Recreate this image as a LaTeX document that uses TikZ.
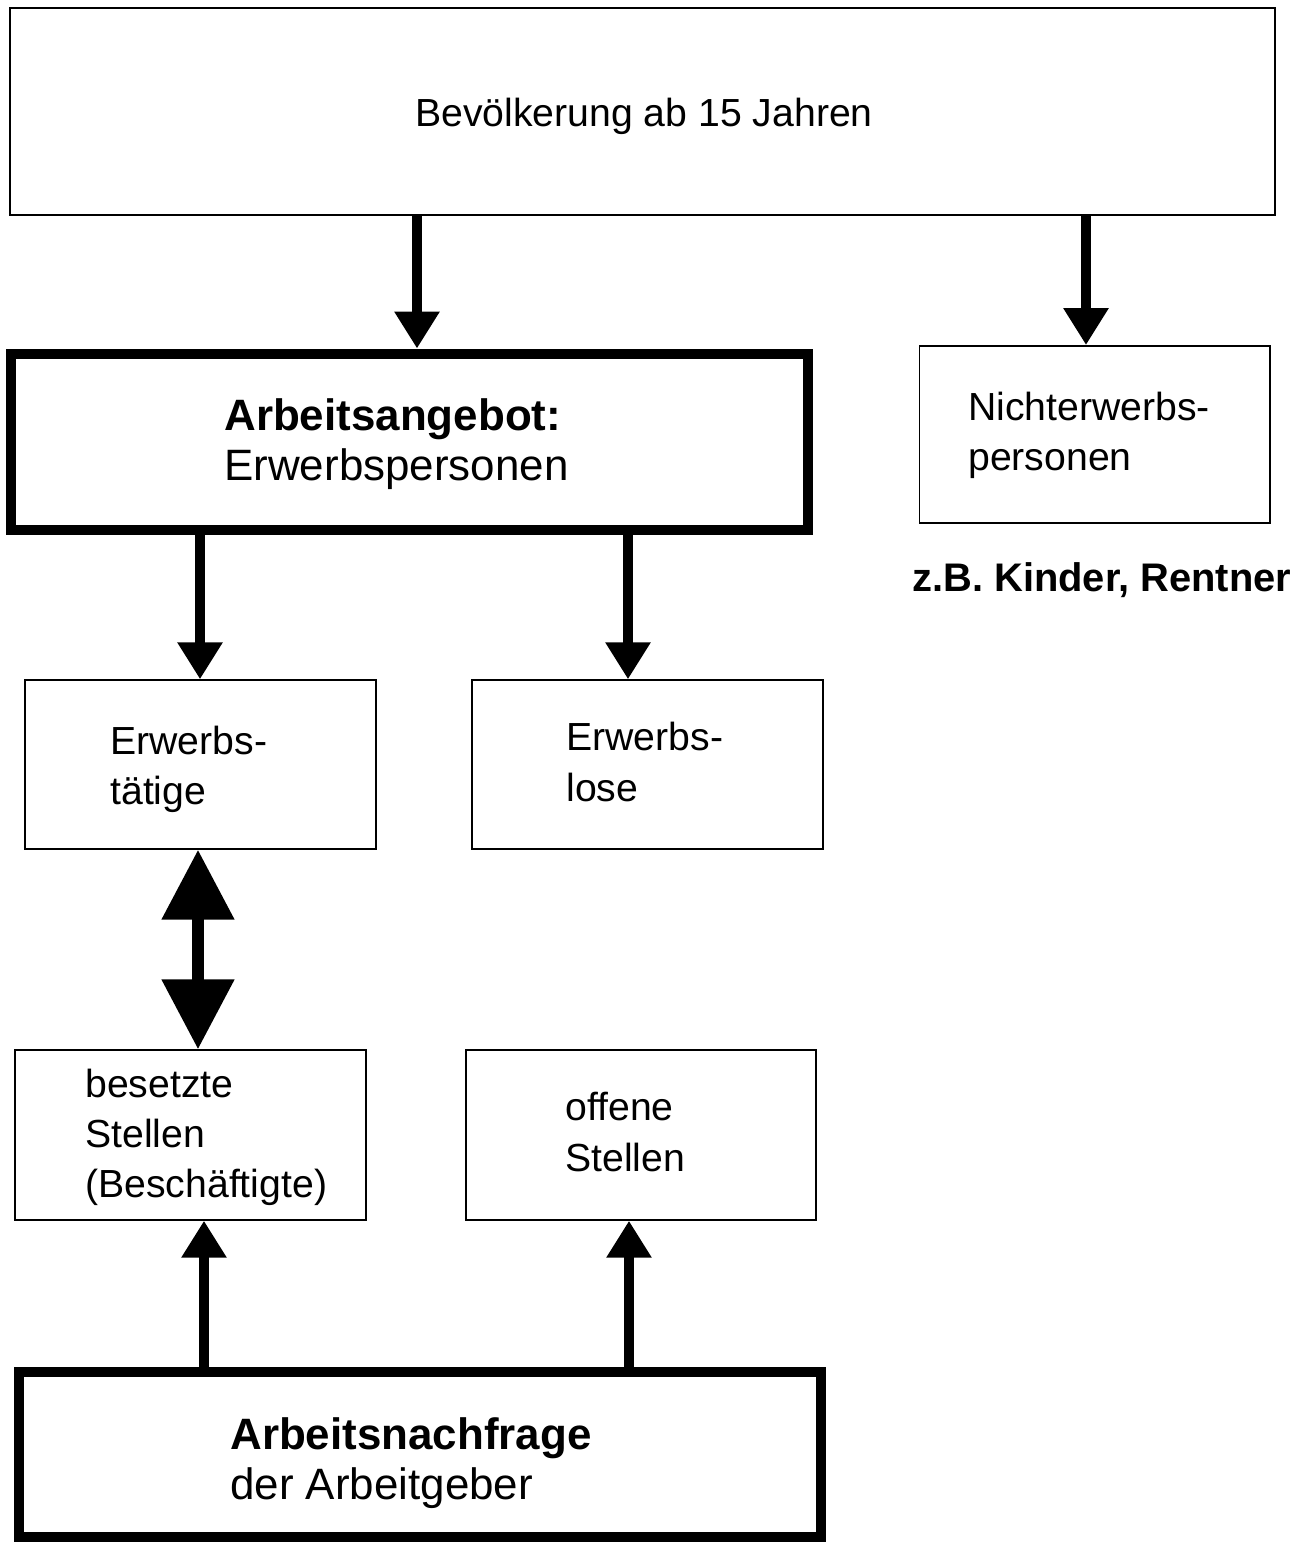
\documentclass[tikz,border=0pt]{standalone}
\usepackage{fontspec}
\setmainfont{Liberation Sans}
\usetikzlibrary{arrows.meta}

\tikzset{
  box/.style={draw, line width=0.03cm, inner sep=0pt},
  thickbox/.style={draw, line width=0.2cm, inner sep=0pt},
  txt/.style={anchor=west, inner sep=0pt, align=left, font=\fontsize{22.3}{28.5}\selectfont},
  bigtxt/.style={anchor=west, inner sep=0pt, align=left, font=\fontsize{25}{28.5}\selectfont},
  arr/.style={line width=0.2cm, -{Triangle[width=0.86cm,length=0.74cm]}},
  dblarr/.style={line width=0.24cm, {Triangle[width=1.4cm,length=1.4cm]}-{Triangle[width=1.4cm,length=1.4cm]}}
}

\begin{document}
\begin{tikzpicture}[x=0.02cm,y=-0.02cm]
\useasboundingbox (0,0) rectangle (1309,1545);

% boxes
\node (bev) at (642.5,111.5) [box, minimum width=25.3cm, minimum height=4.14cm] {};
\node (angebot) at (409.5,441.75) [thickbox, minimum width=15.96cm, minimum height=3.53cm] {};
\node (nichterw) at (1094.7,434.5) [box, minimum width=7.01cm, minimum height=3.55cm] {};
\node (erwt) at (200.5,764.5) [box, minimum width=7.02cm, minimum height=3.38cm] {};
\node (erwl) at (647.5,764.5) [box, minimum width=7.02cm, minimum height=3.38cm] {};
\node (besetzt) at (190.5,1135) [box, minimum width=7.02cm, minimum height=3.4cm] {};
\node (offen) at (641,1135) [box, minimum width=7.0cm, minimum height=3.4cm] {};
\node (nachfrage) at (420,1454.5) [thickbox, minimum width=16.04cm, minimum height=3.3cm] {};

% texts
\node (tbev) at (415,116) [txt] {Bevölkerung ab 15 Jahren};
\node (tangebot) at (224,444) [bigtxt] {\textbf{Arbeitsangebot:}\\Erwerbspersonen};
\node (tnichterw) at (968,435) [txt] {Nichterwerbs-\\personen};
\node (bsp) at (912,580) [txt] {\fontsize{22.7}{28.5}\selectfont\textbf{z.B. Kinder, Rentner}};
\node (terwt) at (110,769) [txt] {Erwerbs-\\tätige};
\node (terwl) at (566,762) [txt] {Erwerbs-\\lose};
\node (tbesetzt) at (85,1137) [txt] {besetzte\\Stellen\\(Beschäftigte)};
\node (toffen) at (565,1132) [txt] {offene\\Stellen};
\node (tnachfrage) at (230,1463) [bigtxt] {\textbf{Arbeitsnachfrage}\\der Arbeitgeber};

% arrows
\draw [arr] (417,0 |- bev.south) -- (417,0 |- angebot.north);
\draw [arr] (1086,0 |- bev.south) -- (1086,0 |- nichterw.north);
\draw [arr] (200,0 |- angebot.south) -- (200,0 |- erwt.north);
\draw [arr] (628,0 |- angebot.south) -- (628,0 |- erwl.north);
\draw [dblarr] (198,0 |- erwt.south) -- (198,0 |- besetzt.north);
\draw [arr] (204,0 |- nachfrage.north) -- (204,0 |- besetzt.south);
\draw [arr] (629,0 |- nachfrage.north) -- (629,0 |- offen.south);
\end{tikzpicture}
\end{document}
